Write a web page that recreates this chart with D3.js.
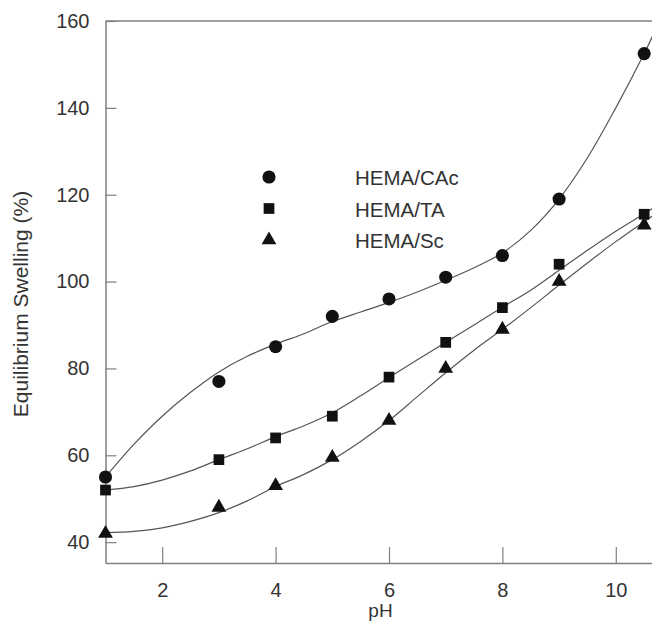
<!DOCTYPE html>
<html>
<head>
<meta charset="utf-8">
<script src="https://cdn.jsdelivr.net/npm/d3@7"></script>
<style>
  body { margin: 0; background: #fff; }
  svg { display: block; font-family: "Liberation Sans", Arial, sans-serif; }
</style>
</head>
<body>
<svg id="chart" width="652" height="623"></svg>
<script>
// measured points (pH, equilibrium swelling %)
const phPoints = [1, 3, 4, 5, 6, 7, 8, 9, 10.5];
const cacPoints = [55, 77, 85, 92, 96, 101, 106, 119, 152.5];
const taPoints = [52, 59, 64, 69, 78, 86, 94, 104, 115.5];
const scPoints = [42, 48, 53, 59.5, 68, 80, 89, 100, 113];

// fitted curves
const phCurve = [1, 1.5, 2, 2.5, 3, 3.5, 4, 4.5, 5, 5.5, 6, 6.5, 7, 7.5, 8, 8.5, 9, 9.5, 10, 10.5, 10.7];
const cacCurve = [55, 62.5, 69, 74.5, 79.2, 82.8, 85.6, 88, 90.8, 93, 95.2, 97.6, 100.3, 103.2, 106.6, 111.8, 119, 128.5, 140, 152.5, 158];
const taCurve = [52, 52.8, 54.3, 56.4, 59, 61.5, 64.3, 66.8, 69.8, 73.7, 77.9, 82, 86, 90, 94.1, 98, 102.6, 107.2, 111.6, 115.6, 117.3];
const scCurve = [42.2, 42.5, 43.3, 44.8, 46.8, 49.5, 52.8, 55.6, 59, 63.2, 68, 73.5, 79, 84.2, 89, 94, 99.2, 104.3, 109.2, 113.8, 115.6];

const xTicks = [2, 4, 6, 8, 10];
const yTicks = [40, 60, 80, 100, 120, 140, 160];
const seriesNames = ["HEMA/CAc", "HEMA/TA", "HEMA/Sc"];

const svg = d3.select("#chart");
const axisColor = "#808080";
const textColor = "#333";

const x = d3.scaleLinear().domain([1, 10.7]).range([105.5, 655.5]);
const y = d3.scaleLinear().domain([35.2, 160]).range([563, 21]);

// top frame line
svg.append("line")
  .attr("x1", x(1)).attr("x2", x(10.7))
  .attr("y1", y(160)).attr("y2", y(160))
  .attr("stroke", axisColor).attr("stroke-width", 1.5);

// x axis (ticks point inward)
const xAxis = svg.append("g")
  .attr("transform", "translate(0," + y(35.2) + ")")
  .call(d3.axisBottom(x).tickValues(xTicks).tickSizeInner(-16).tickSizeOuter(0).tickPadding(20));

// y axis (ticks point inward)
const yAxis = svg.append("g")
  .attr("transform", "translate(" + x(1) + ",0)")
  .call(d3.axisLeft(y).tickValues(yTicks).tickSizeInner(-11).tickSizeOuter(0).tickPadding(16));

[xAxis, yAxis].forEach((g) => {
  g.select(".domain").attr("stroke", axisColor).attr("stroke-width", 1.5);
  g.selectAll(".tick line").attr("stroke", axisColor).attr("stroke-width", 1.2);
  g.selectAll(".tick text")
    .attr("fill", textColor)
    .attr("font-size", "20px")
    .attr("font-family", "Liberation Sans, Arial, sans-serif");
});

// axis titles
svg.append("text")
  .attr("x", x(5.85))
  .attr("y", 617)
  .attr("text-anchor", "middle")
  .attr("fill", textColor)
  .attr("font-size", "19px")
  .text("pH");

svg.append("text")
  .attr("transform", "translate(28,304) rotate(-90)")
  .attr("text-anchor", "middle")
  .attr("fill", textColor)
  .attr("font-size", "21px")
  .text("Equilibrium Swelling (%)");

// clip to plot area
svg.append("defs").append("clipPath").attr("id", "clip")
  .append("rect")
  .attr("x", x(1)).attr("y", y(160))
  .attr("width", x(10.7) - x(1)).attr("height", y(35.2) - y(160));

const line = d3.line()
  .x((d) => x(d[0]))
  .y((d) => y(d[1]))
  .curve(d3.curveCatmullRom.alpha(0.5));

const curveGroup = svg.append("g").attr("clip-path", "url(#clip)");
[cacCurve, taCurve, scCurve].forEach((c) => {
  curveGroup.append("path")
    .datum(phCurve.map((p, i) => [p, c[i]]))
    .attr("fill", "none")
    .attr("stroke", "#555")
    .attr("stroke-width", 1.2)
    .attr("d", line);
});

// markers
const symbols = [
  d3.symbol().type(d3.symbolCircle).size(135),
  d3.symbol().type(d3.symbolSquare).size(115),
  d3.symbol().type(d3.symbolTriangle).size(95),
];

[cacPoints, taPoints, scPoints].forEach((s, k) => {
  svg.append("g")
    .selectAll("path")
    .data(phPoints.map((p, i) => [p, s[i]]))
    .join("path")
    .attr("transform", (d) => "translate(" + x(d[0]) + "," + y(d[1]) + ")")
    .attr("fill", "#111")
    .attr("d", symbols[k]);
});

// legend
const legend = svg.append("g");
seriesNames.forEach((name, k) => {
  const cy = 177 + k * 31.5;
  legend.append("path")
    .attr("transform", "translate(269," + cy + ")")
    .attr("fill", "#111")
    .attr("d", symbols[k]);
  legend.append("text")
    .attr("x", 355)
    .attr("y", cy + 8)
    .attr("fill", textColor)
    .attr("font-size", "20.5px")
    .text(name);
});
</script>
</body>
</html>
